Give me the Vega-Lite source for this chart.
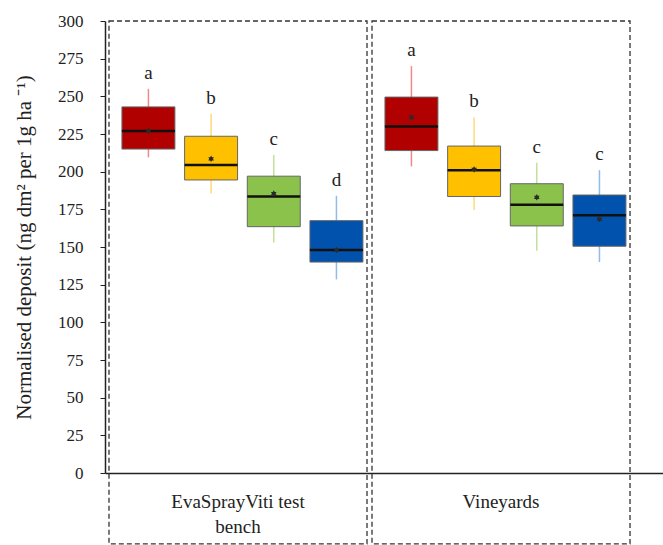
{
  "$schema": "https://vega.github.io/schema/vega-lite/v6.json",
  "width": 558,
  "height": 452,
  "autosize": {"type": "none"},
  "padding": {"left": 105, "top": 21, "right": 0, "bottom": 72},
  "background": "white",
  "config": {
    "view": {"stroke": null},
    "font": "Liberation Serif",
    "axisY": {
      "labelOverlap": false,
      "grid": false,
      "tickColor": "#222",
      "tickSize": 5,
      "domainColor": "#222",
      "domainWidth": 1.5,
      "labelFont": "Liberation Serif, serif",
      "labelFontSize": 17,
      "labelColor": "#222",
      "labelPadding": 17,
      "titleFont": "Liberation Serif, serif",
      "titleFontSize": 21,
      "titleFontWeight": "normal",
      "titleColor": "#222",
      "titlePadding": 23
    }
  },
  "datasets": {
    "groups": [
      {"group": "EvaSprayViti test bench"},
      {"group": "Vineyards"}
    ],
    "boxes": [
      {"group": "EvaSprayViti test bench", "treatment": "T1", "lower": 209.5, "q1": 215, "median": 227, "q3": 243, "upper": 255, "mean": 227, "letter": "a"},
      {"group": "EvaSprayViti test bench", "treatment": "T2", "lower": 185.5, "q1": 194.5, "median": 204.5, "q3": 223.5, "upper": 238.5, "mean": 208.5, "letter": "b"},
      {"group": "EvaSprayViti test bench", "treatment": "T3", "lower": 153, "q1": 163.5, "median": 183.5, "q3": 197, "upper": 211, "mean": 185.5, "letter": "c"},
      {"group": "EvaSprayViti test bench", "treatment": "T4", "lower": 128.5, "q1": 140, "median": 148, "q3": 167.5, "upper": 184, "mean": 148, "letter": "d"},
      {"group": "Vineyards", "treatment": "T1", "lower": 203.5, "q1": 214, "median": 230, "q3": 249.5, "upper": 270, "mean": 236, "letter": "a"},
      {"group": "Vineyards", "treatment": "T2", "lower": 174.5, "q1": 183.5, "median": 201, "q3": 217, "upper": 236, "mean": 201.5, "letter": "b"},
      {"group": "Vineyards", "treatment": "T3", "lower": 147.5, "q1": 164, "median": 178, "q3": 192, "upper": 206, "mean": 183, "letter": "c"},
      {"group": "Vineyards", "treatment": "T4", "lower": 140, "q1": 150.5, "median": 171, "q3": 184.5, "upper": 201, "mean": 168.5, "letter": "c"}
    ]
  },
  "encoding": {
    "x": {
      "field": "group",
      "type": "nominal",
      "title": null,
      "scale": {"domain": ["EvaSprayViti test bench", "Vineyards"], "paddingInner": 0.019, "paddingOuter": 0.0703, "align": 0.108},
      "axis": {
        "labelExpr": "datum.value == 'Vineyards' ? datum.value : ['EvaSprayViti test', 'bench']",
        "ticks": false,
        "grid": false,
        "labelAngle": 0,
        "domainColor": "#222",
        "domainWidth": 1.5,
        "labelFont": "Liberation Serif, serif",
        "labelFontSize": 19,
        "labelColor": "#222",
        "labelPadding": 19,
        "labelLineHeight": 25
      }
    }
  },
  "layer": [
    {
      "data": {"name": "groups"},
      "mark": {"type": "bar", "fill": "transparent", "stroke": "#333", "strokeDash": [5, 3], "strokeWidth": 1.3, "clip": false},
      "encoding": {
        "y": {"datum": 300, "type": "quantitative", "scale": {"domain": [0, 300], "nice": false}, "title": "Normalised deposit (ng dm² per 1g ha ⁻¹)", "axis": {"values": [0, 25, 50, 75, 100, 125, 150, 175, 200, 225, 250, 275, 300]}},
        "y2": {"datum": -47}
      }
    },
    {
      "data": {"name": "boxes"},
      "encoding": {
        "xOffset": {"field": "treatment", "type": "nominal", "scale": {"paddingInner": 0.155, "paddingOuter": 0.136, "align": 0.76}}
      },
      "layer": [
        {
          "mark": {"type": "rule", "strokeWidth": 1.5},
          "encoding": {
            "y": {"field": "lower", "type": "quantitative", "scale": {"domain": [0, 300], "nice": false}, "title": "Normalised deposit (ng dm² per 1g ha ⁻¹)", "axis": {"values": [0, 25, 50, 75, 100, 125, 150, 175, 200, 225, 250, 275, 300]}},
            "y2": {"field": "upper"},
            "stroke": {"field": "treatment", "type": "nominal", "scale": {"domain": ["T1", "T2", "T3", "T4"], "range": ["#f08a8a", "#ffd97a", "#c3e09c", "#8fbce8"]}, "legend": null}
          }
        },
        {
          "mark": {"type": "bar", "stroke": "#666", "strokeWidth": 1},
          "encoding": {
            "y": {"field": "q1", "type": "quantitative", "scale": {"domain": [0, 300], "nice": false}, "title": "Normalised deposit (ng dm² per 1g ha ⁻¹)", "axis": {"values": [0, 25, 50, 75, 100, 125, 150, 175, 200, 225, 250, 275, 300]}},
            "y2": {"field": "q3"},
            "fill": {"field": "treatment", "type": "nominal", "scale": {"domain": ["T1", "T2", "T3", "T4"], "range": ["#b00000", "#ffc000", "#8bc24c", "#0052ad"]}, "legend": null}
          }
        },
        {
          "mark": {"type": "tick", "color": "#111", "thickness": 2.5, "size": 53, "opacity": 1},
          "encoding": {
            "y": {"field": "median", "type": "quantitative", "scale": {"domain": [0, 300], "nice": false}, "title": "Normalised deposit (ng dm² per 1g ha ⁻¹)", "axis": {"values": [0, 25, 50, 75, 100, 125, 150, 175, 200, 225, 250, 275, 300]}}
          }
        },
        {
          "mark": {"type": "point", "shape": "M0,-1L0.29,-0.5L0.87,-0.5L0.58,0L0.87,0.5L0.29,0.5L0,1L-0.29,0.5L-0.87,0.5L-0.58,0L-0.87,-0.5L-0.29,-0.5Z", "filled": true, "color": "#2a2a2a", "size": 42, "opacity": 1},
          "encoding": {
            "y": {"field": "mean", "type": "quantitative", "scale": {"domain": [0, 300], "nice": false}, "title": "Normalised deposit (ng dm² per 1g ha ⁻¹)", "axis": {"values": [0, 25, 50, 75, 100, 125, 150, 175, 200, 225, 250, 275, 300]}}
          }
        },
        {
          "mark": {"type": "text", "fontSize": 19, "color": "#222", "baseline": "alphabetic", "dy": -10, "font": "Liberation Serif, serif"},
          "encoding": {
            "y": {"field": "upper", "type": "quantitative", "scale": {"domain": [0, 300], "nice": false}, "title": "Normalised deposit (ng dm² per 1g ha ⁻¹)", "axis": {"values": [0, 25, 50, 75, 100, 125, 150, 175, 200, 225, 250, 275, 300]}},
            "text": {"field": "letter"}
          }
        }
      ]
    }
  ]
}
